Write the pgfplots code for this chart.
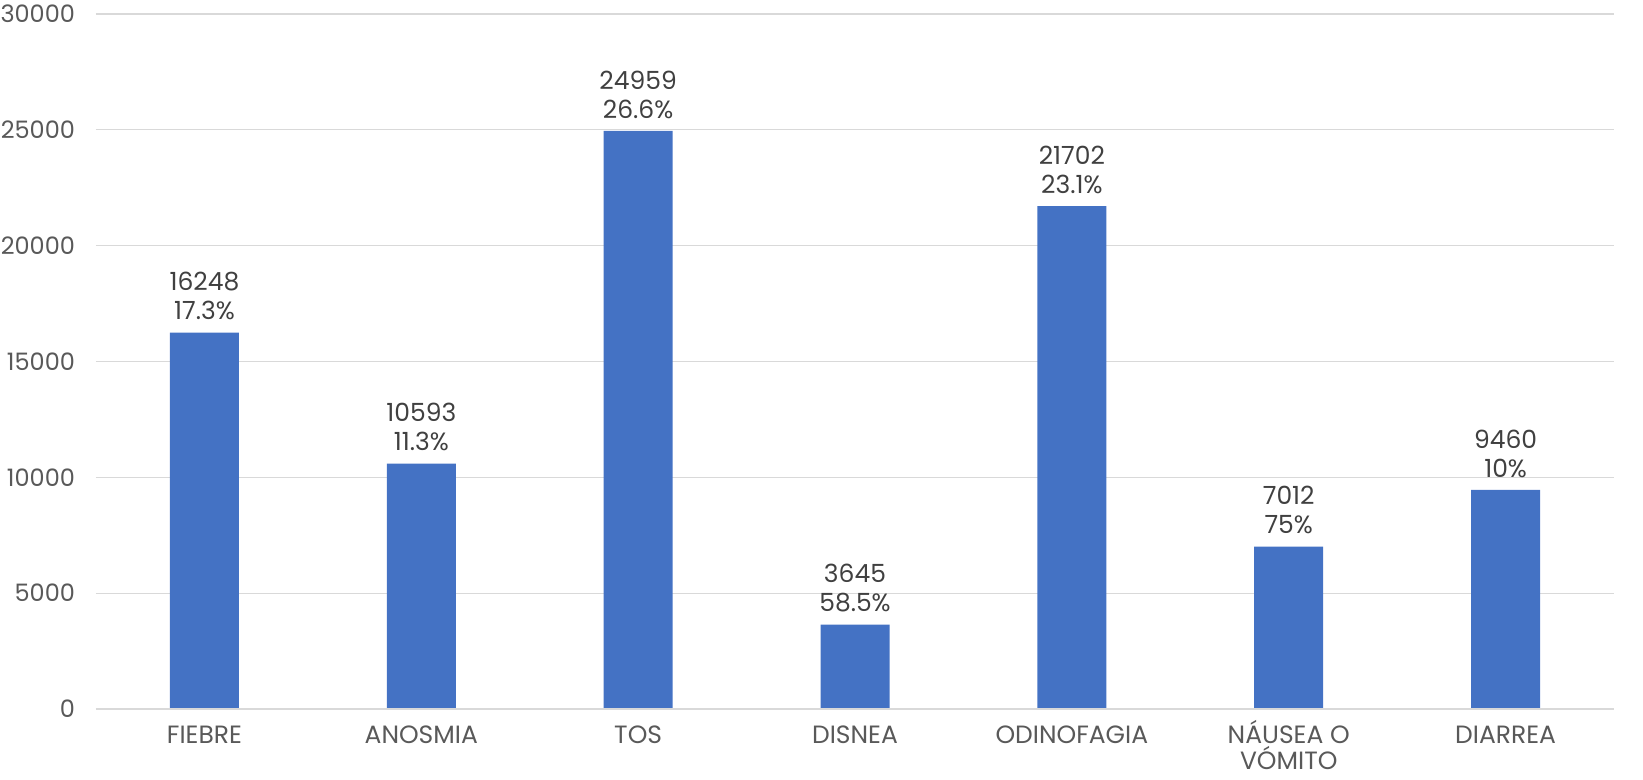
\documentclass[border=0pt]{standalone}
\usepackage{fontspec}
\setmainfont{Poppins}
\usepackage{pgfplots}
\pgfplotsset{compat=1.18}
\definecolor{barblue}{HTML}{4472C4}
\definecolor{ticktext}{HTML}{595959}
\definecolor{labeltext}{HTML}{404040}
\definecolor{gridgray}{HTML}{D9D9D9}

\begin{document}
\begin{tikzpicture}
\begin{axis}[
    scale only axis,
    width=759pt, height=347.5pt,
    xmin=-0.5, xmax=6.5,
    ymin=0, ymax=30000,
    ytick={0,5000,10000,15000,20000,25000,30000},
    scaled y ticks=false,
    xtick={0,1,2,3,4,5,6},
    xticklabels={FIEBRE, ANOSMIA, TOS, DISNEA, ODINOFAGIA, {N\smash{Á}USEA O\\V\smash{Ó}MITO}, DIARREA},
    axis line style={draw=none},
    tick style={draw=none},
    ymajorgrids,
    grid style={gridgray, line width=0.6pt},
    /pgf/number format/assume math mode=true,
    /pgf/number format/1000 sep={},
    yticklabel style={font=\fontsize{12}{13}\selectfont, text=ticktext, xshift=-7pt},
    xticklabel style={font=\fontsize{12.5}{13}\selectfont, text=ticktext, align=center, anchor=north, yshift=-2pt, inner sep=2pt},
    ybar, bar width=34.5pt,
    bar shift=0pt,
    nodes near coords,
    point meta=explicit symbolic,
    nodes near coords style={font=\fontsize{12.5}{14.5}\selectfont, text=labeltext, align=center, anchor=south, inner sep=1pt, yshift=5pt},
    clip=false,
]
\addplot[fill=barblue, draw=none] coordinates {
    (0,16248) [16248\\17.3\%]
    (1,10593) [10593\\11.3\%]
    (2,24959) [24959\\26.6\%]
    (3,3645)  [3645\\58.5\%]
    (4,21702) [21702\\23.1\%]
    (5,7012)  [7012\\75\%]
    (6,9460)  [9460\\10\%]
};
\draw[gridgray, line width=1pt] (axis cs:-0.5,0) -- (axis cs:6.5,0);
\end{axis}
\pgfresetboundingbox
\path[use as bounding box] ([shift={(-48pt,-35pt)}]current axis.south west) rectangle ([shift={(14.5pt,7pt)}]current axis.north east);
\end{tikzpicture}
\end{document}
